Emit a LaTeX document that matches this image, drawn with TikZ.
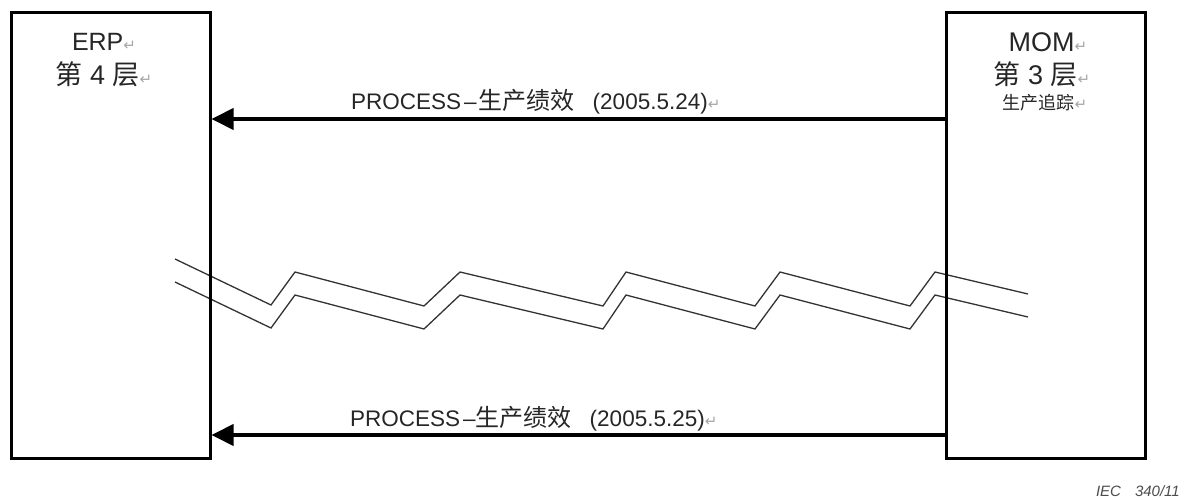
\documentclass[tikz,border=0pt]{standalone}
\usepackage{fontspec}
\setmainfont{Liberation Sans}
\newfontfamily\cjk{Noto Sans CJK SC}
\newfontfamily\symfont{DejaVu Sans}
\usetikzlibrary{arrows.meta}
\newcommand{\retmark}{{\symfont\fontsize{15}{15}\selectfont\color{gray!70}↵}}
\tikzset{
  box/.style={draw=black, line width=3pt, minimum width=199pt, minimum height=445pt, inner sep=0pt},
  boxtext/.style={inner sep=0pt, anchor=center, text=black!85},
  msg/.style={draw=black, line width=4pt, -{Triangle[length=22pt,width=21pt]}},
  msglabel/.style={inner sep=0pt, anchor=west, text=black!85, font=\fontsize{22.5}{24}\selectfont},
  zig/.style={draw=black!80, line width=1.3pt, line join=miter},
}
\begin{document}
\begin{tikzpicture}[x=1pt,y=-1pt]
\useasboundingbox (0,0) rectangle (1187,500);
% zigzag break lines
\draw[zig] (175,259) -- (271,305) -- (295,272) -- (424,306) -- (460,272) -- (603,306) -- (626,272) -- (755,306) -- (780,272) -- (910,306) -- (935,272) -- (1028,294);
\draw[zig] (175,282) -- (271,328) -- (295,295) -- (424,329) -- (460,295) -- (603,329) -- (626,295) -- (755,329) -- (780,295) -- (910,329) -- (935,295) -- (1028,317);
% boxes
\node[box] (erp) at (110.5,235.5) {};
\node[box] (mom) at (1045.5,235.5) {};
% box texts
\node[boxtext, font=\fontsize{25}{26}\selectfont] (erpA) at (104,42) {ERP\retmark};
\node[boxtext, font=\fontsize{27}{28}\selectfont] (erpB) at (104,74) {{\cjk 第} 4 {\cjk 层}\retmark};
\node[boxtext, font=\fontsize{27}{28}\selectfont] (momA) at (1048,42) {MOM\retmark};
\node[boxtext, font=\fontsize{27}{28}\selectfont] (momB) at (1042,74) {{\cjk 第} 3 {\cjk 层}\retmark};
\node[boxtext, font=\fontsize{18}{19}\selectfont] (momC) at (1045,103) {{\cjk 生产追踪}\retmark};
% messages
\coordinate (y1) at (0,119);
\coordinate (y2) at (0,435);
\draw[msg] (mom.west |- y1) -- (erp.east |- y1);
\draw[msg] (mom.west |- y2) -- (erp.east |- y2);
\node[msglabel] (lab1) at (351,102) {PROCESS\hspace{3pt}–\hspace{2pt}{\cjk\fontsize{24}{25}\selectfont 生产绩效}\hspace{18pt}(2005.5.24)\retmark};
\node[msglabel] (lab2) at (350,419) {PROCESS\hspace{3pt}–{\cjk\fontsize{24}{25}\selectfont 生产绩效}\hspace{18pt}(2005.5.25)\retmark};
% footer
\node[inner sep=0pt, anchor=east, text=gray!60!black, font=\itshape\fontsize{15}{15}\selectfont] (iec) at (1180,491) {IEC\hspace{14pt}340/11};
\end{tikzpicture}
\end{document}
